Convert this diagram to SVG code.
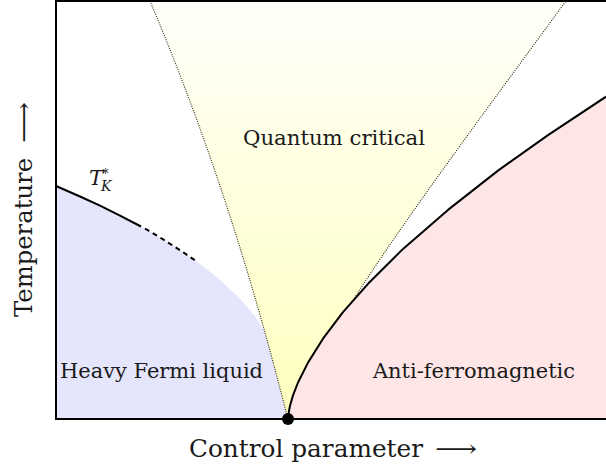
<svg xmlns="http://www.w3.org/2000/svg" width="606" height="466" viewBox="0 0 606 466">
<style>
  .lbl { font-family: "DejaVu Serif", "Liberation Serif", serif; fill: #1a1a1a; }
  .axis { font-size: 24px; }
  .region { font-size: 20.5px; }
  .bound { fill: none; stroke: #000; stroke-width: 2; stroke-linejoin: round; }
  .dot { fill: none; stroke: #2a2a10; stroke-width: 1.1; stroke-dasharray: 1 1.3; }
</style>
<defs>
  <linearGradient id="qc" x1="0" y1="0" x2="0" y2="1">
    <stop offset="0" stop-color="#fffffa"/>
    <stop offset="1" stop-color="#ffffbe"/>
  </linearGradient>
</defs>
<rect x="0" y="0" width="606" height="466" fill="#fff"/>

<g id="heavy-fermi-liquid">
  <path fill="#e5e5fb" d="M56,186 L80,196.5 L100,205.7 L120,215.6 L140,226 L160,237.5 L180,250.1 L200,264 L220,279.8 L240,298.8 L255,316.2 L270,339.4 L280,362.4 L285,381.5 L288,419 L56,419 Z"/>
  <text class="lbl region" x="60" y="378" textLength="203" lengthAdjust="spacingAndGlyphs">Heavy Fermi liquid</text>
</g>

<g id="quantum-critical">
  <path fill="url(#qc)" d="M150,1 C230,190 270,350 288,419 C330,320 420,200 566,1 Z"/>
  <text class="lbl region" x="243" y="145" textLength="182" lengthAdjust="spacingAndGlyphs">Quantum critical</text>
</g>

<g id="connectors">
  <path class="dot" d="M150,1 C230,190 270,350 288,419"/>
  <path class="dot" d="M288,419 C330,320 420,200 566,1"/>
</g>

<g id="anti-ferromagnetic">
  <path fill="#fee6e6" d="M288,419 L289,411 L290,405.8 L293,395.4 L298,382.5 L308,362.6 L323,338.7 L343,312.2 L368,283.8 L403,248.9 L448,209.9 L498,170.6 L548,135.1 L606,96.7 L606,419 Z"/>
  <path class="bound" d="M288,419 L289,411 L290,405.8 L293,395.4 L298,382.5 L308,362.6 L323,338.7 L343,312.2 L368,283.8 L403,248.9 L448,209.9 L498,170.6 L548,135.1 L606,96.7"/>
  <text class="lbl region" x="373" y="378" textLength="202" lengthAdjust="spacingAndGlyphs">Anti-ferromagnetic</text>
</g>

<g id="kondo-line">
  <path class="bound" d="M56,186 L80,196.5 L100,205.7 L120,215.6 L141,226.5"/>
  <path class="bound" stroke-dasharray="5 4" d="M145,228.5 L160,237.5 L180,250.1 L195,260.3"/>
  <text class="lbl" font-style="italic" x="89" y="185" font-size="21">T<tspan x="101" dy="5.5" font-size="14">K</tspan><tspan x="102.5" dy="-12.5" font-size="12" font-style="normal">*</tspan></text>
</g>

<g id="frame">
  <path fill="none" stroke="#000" stroke-width="2" d="M606,1 L56,1 L56,419 L606,419"/>
</g>

<g id="qcp">
  <circle cx="288" cy="419" r="6" fill="#000"/>
</g>

<g id="x-axis-label">
  <text class="lbl axis" y="457"><tspan x="189" textLength="234" lengthAdjust="spacingAndGlyphs">Control parameter</tspan><tspan x="435" textLength="42" lengthAdjust="spacingAndGlyphs">⟶</tspan></text>
</g>

<g id="y-axis-label">
  <text class="lbl axis" transform="translate(32,317) rotate(-90)"><tspan x="0" y="0" textLength="159" lengthAdjust="spacingAndGlyphs">Temperature</tspan><tspan x="174" y="0" textLength="41" lengthAdjust="spacingAndGlyphs">⟶</tspan></text>
</g>
</svg>
